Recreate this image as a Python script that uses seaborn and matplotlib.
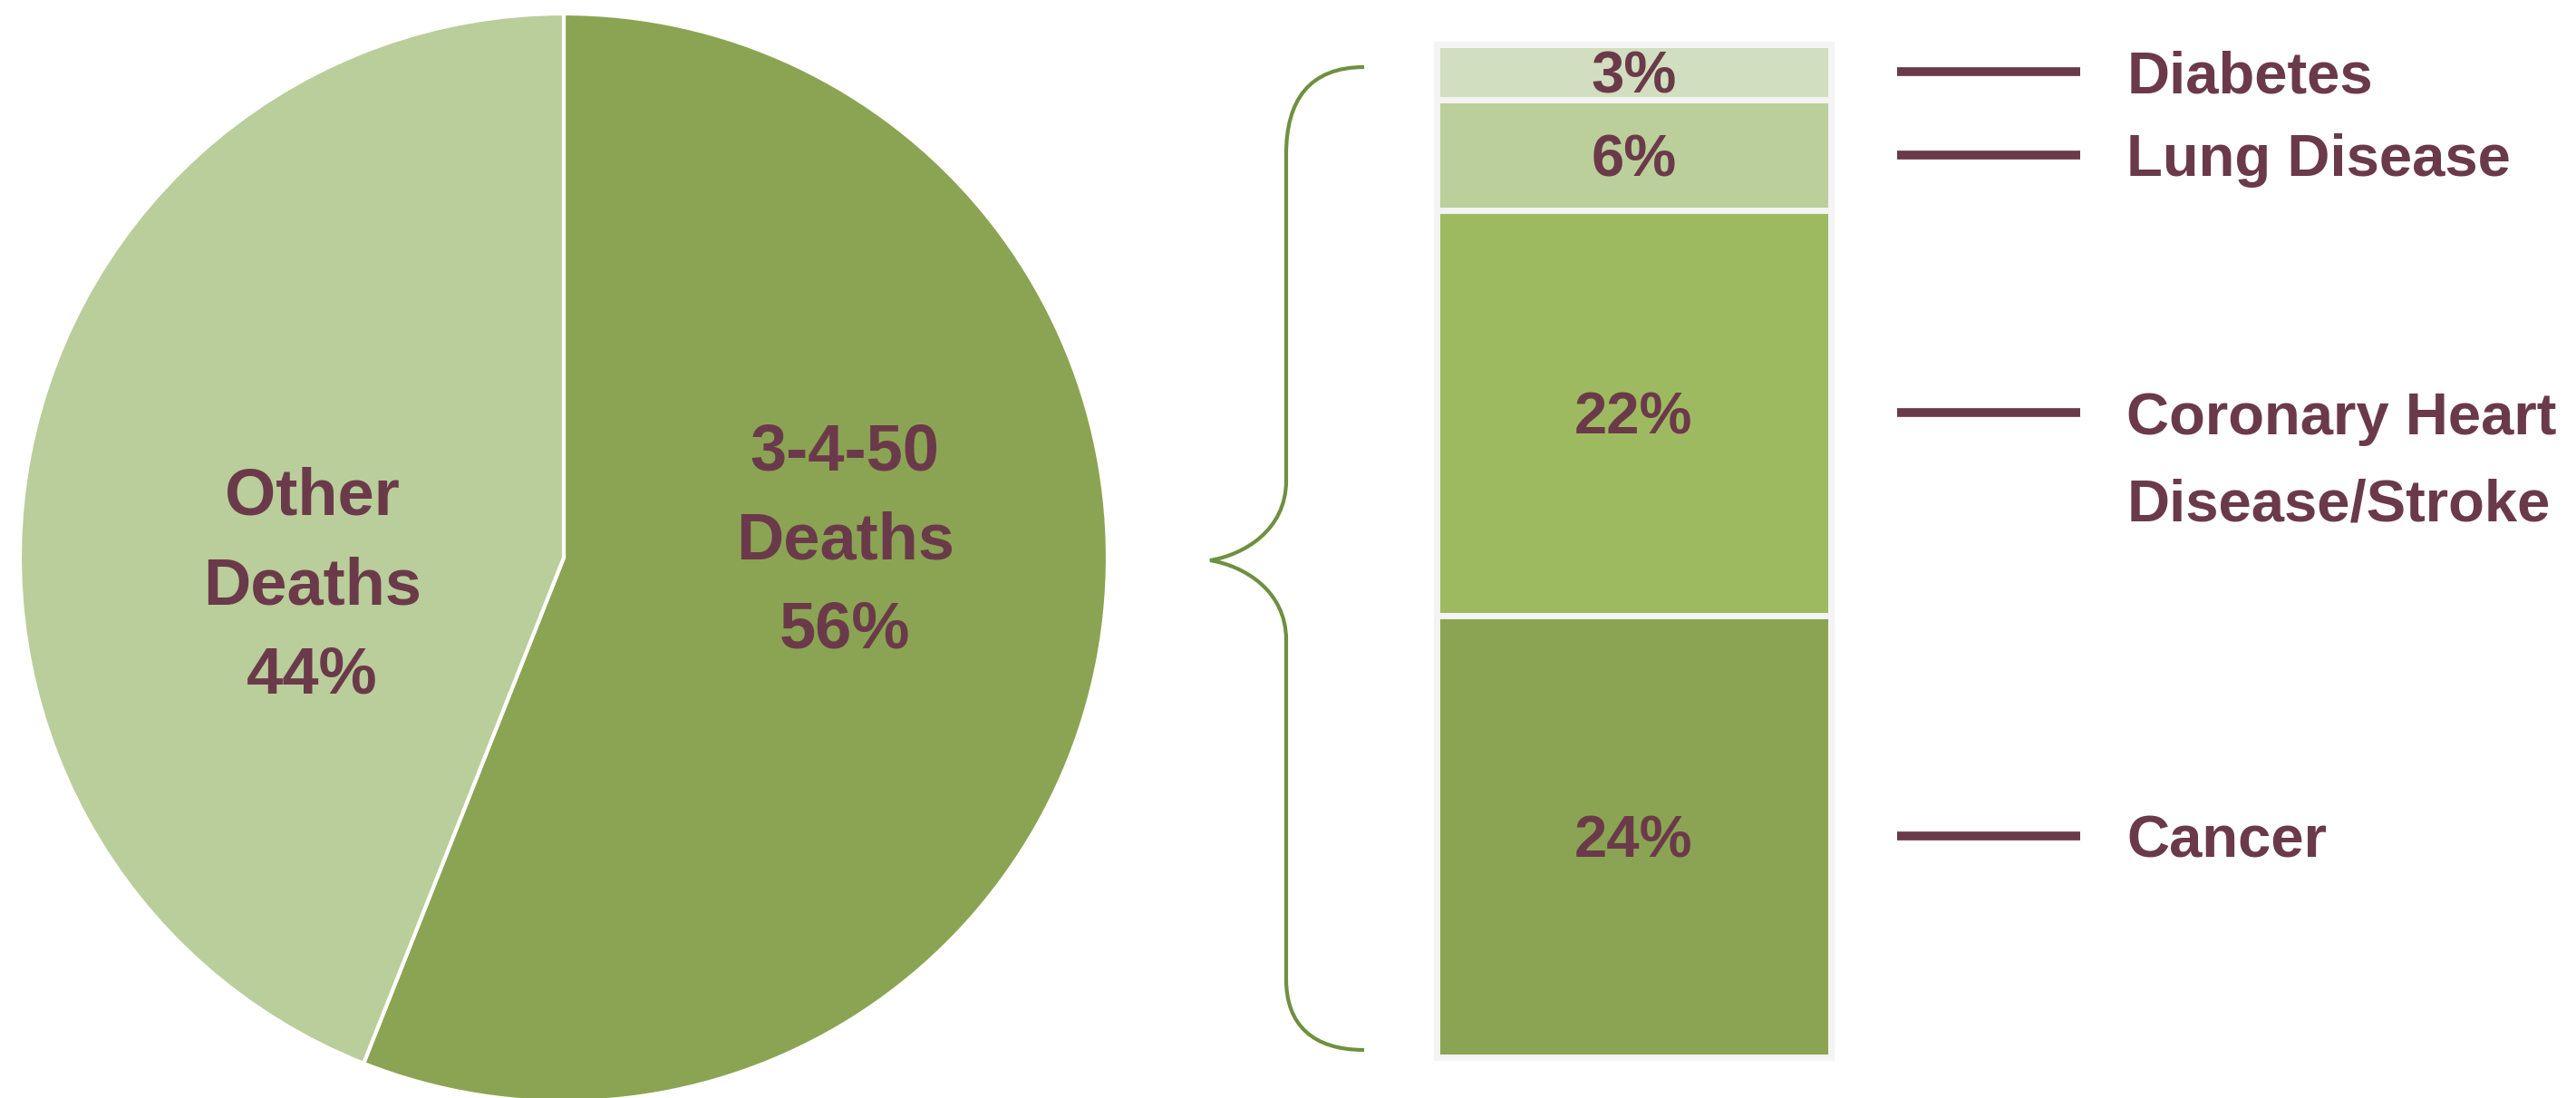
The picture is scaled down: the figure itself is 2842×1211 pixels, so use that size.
import numpy as np
import pandas as pd
import matplotlib
matplotlib.use("Agg")
import matplotlib.pyplot as plt
import matplotlib.transforms as mtransforms
from matplotlib.path import Path
from matplotlib.patches import PathPatch
import seaborn as sns

# ---------------- data ----------------
pie_labels = ["3-4-50\nDeaths\n56%", "Other\nDeaths\n44%"]
pie_values = [56, 44]

cause_labels = ["Cancer", "Coronary Heart\nDisease/Stroke", "Lung Disease", "Diabetes"]
cause_values = [24, 22, 6, 3]
cause_pct = ["24%", "22%", "6%", "3%"]

# ---------------- style ----------------
sns.set_theme(style="white")
plt.rcParams["font.family"] = ["Liberation Sans", "DejaVu Sans"]
plt.rcParams["font.weight"] = "bold"

TEXT = "#6B3A4A"
PIE_COLORS = ["#8BA453", "#B9CE9A"]
BAR_COLORS = ["#8BA453", "#9EBA60", "#BBCF9B", "#D1DEBF"]
EDGE = "#F4F4F4"
BRACE = "#6E9040"

W, H = 2842, 1211
fig = plt.figure(figsize=(W / 100, H / 100), dpi=100)
fig.patch.set_facecolor("white")

# background overlay (pixel coordinates) for the brace
bg = fig.add_axes([0, 0, 1, 1])
bg.set_xlim(0, W)
bg.set_ylim(H, 0)
bg.axis("off")
bg.patch.set_alpha(0)

verts = [
    (1505, 74), (1445, 74), (1419, 110), (1419, 170),
    (1419, 530),
    (1419, 585), (1372, 612), (1335, 618),
    (1372, 624), (1419, 651), (1419, 706),
    (1419, 1080),
    (1419, 1130), (1448, 1158), (1505, 1158),
]
codes = [Path.MOVETO, Path.CURVE4, Path.CURVE4, Path.CURVE4,
         Path.LINETO,
         Path.CURVE4, Path.CURVE4, Path.CURVE4,
         Path.CURVE4, Path.CURVE4, Path.CURVE4,
         Path.LINETO,
         Path.CURVE4, Path.CURVE4, Path.CURVE4]
bg.add_patch(PathPatch(Path(verts, codes), facecolor="none",
                       edgecolor=BRACE, lw=3, capstyle="butt"))

# ---------------- pie ----------------
pax = fig.add_axes([22 / W, (H - 1215) / H, 1200 / W, 1200 / H])
pax.pie(pie_values, colors=PIE_COLORS, startangle=90, counterclock=False,
        wedgeprops=dict(edgecolor="white", linewidth=3))
pax.set_xlim(-1, 1)
pax.set_ylim(-1, 1)
pax.set_aspect("equal")
pax.axis("off")

pie_text_pos = [(0.517, 0.040), (-0.463, -0.042)]
for lab, (px, py) in zip(pie_labels, pie_text_pos):
    lines = lab.split("\n")
    n = len(lines)
    for i, ln in enumerate(lines):
        off = (n - 1) / 2 * 70.6 - i * 70.6 - 18.6
        pax.annotate(ln, xy=(px, py), xytext=(0, off), textcoords="offset points",
                     ha="center", va="baseline", fontsize=52,
                     fontweight="bold", color=TEXT, annotation_clip=False)

# ---------------- stacked bar ----------------
bax = fig.add_axes([1585 / W, (H - 1166) / H, 435 / W, (1166 - 49) / H])
cum = np.cumsum(cause_values)
df = pd.DataFrame({"group": ["3-4-50"] * len(cum), "cum": cum, "cause": cause_labels})
for i in reversed(range(len(cum))):
    sns.barplot(data=df.iloc[[i]], x="group", y="cum", color=BAR_COLORS[i],
                width=1.0, saturation=1, edgecolor=EDGE, linewidth=5,
                errorbar=None, ax=bax)
for p in bax.patches:
    p.set_clip_on(False)
bax.set_xlim(-0.5, 0.5)
bax.set_ylim(0, cum[-1])
bax.axis("off")
bax.patch.set_alpha(0)

blend = mtransforms.blended_transform_factory(bax.transAxes, bax.transData)
for i, (lab, pct, v) in enumerate(zip(cause_labels, cause_pct, cause_values)):
    yc = cum[i] - v / 2
    bax.annotate(pct, xy=(0, yc), xytext=(0, -16.8), textcoords="offset points",
                 ha="center", va="baseline", fontsize=47, fontweight="bold",
                 color=TEXT, annotation_clip=False)
    bax.plot([1.168, 1.632], [yc, yc], transform=blend, color=TEXT, lw=7,
             solid_capstyle="butt", clip_on=False)
    for j, ln in enumerate(lab.split("\n")):
        bax.annotate(ln, xy=(1.75, yc), xycoords=blend,
                     xytext=(0, -16.8 - j * 69), textcoords="offset points",
                     ha="left", va="baseline", fontsize=47, fontweight="bold",
                     color=TEXT, annotation_clip=False)

fig.savefig("out.png", dpi=100, facecolor="white")
